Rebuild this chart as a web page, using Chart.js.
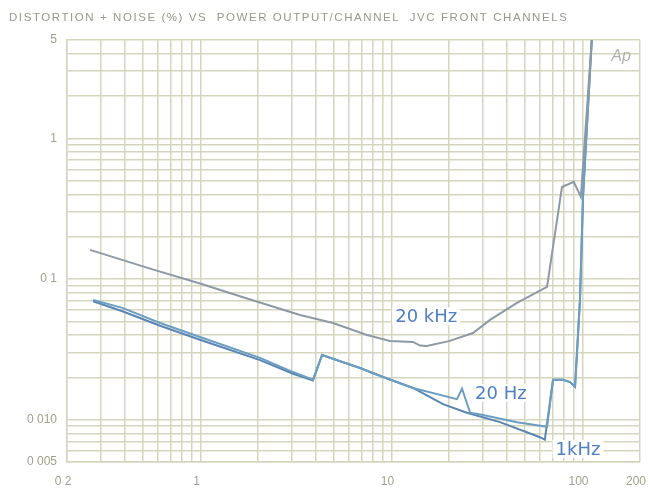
<!DOCTYPE html>
<html><head><meta charset="utf-8">
<script src="https://cdn.jsdelivr.net/npm/chart.js@4"></script>
<style>html,body{margin:0;padding:0;background:#fff}</style>
</head><body>
<canvas id="c" width="651" height="491"></canvas>
<script>
const chartTitle = 'DISTORTION + NOISE (%) VS  POWER OUTPUT/CHANNEL  JVC FRONT CHANNELS';

// grid positions (log)
const xGridValues = [0.2,0.3,0.4,0.5,0.6,0.7,0.8,0.9,1,2,3,4,5,6,7,8,9,10,20,30,40,50,60,70,80,90,100,200];
const yGridValues = [0.005,0.006,0.007,0.008,0.009,0.01,0.02,0.03,0.04,0.05,0.06,0.07,0.08,0.09,0.1,0.2,0.3,0.4,0.5,0.6,0.7,0.8,0.9,1,2,3,4,5];

// tick labels
const xLabelValues = [0.2, 1, 10, 100, 200];
const xLabelTexts  = ['0 2', '1', '10', '100', '200'];
const yLabelValues = [5, 1, 0.1, 0.01, 0.005];
const yLabelTexts  = ['5', '1', '0 1', '0 010', '0 005'];

// series: 20 kHz
const power20k = [0.264, 0.55, 0.994, 1.82, 3.32, 4.94, 7.44, 9.82, 12.96, 14.1, 15.3, 20.2, 26.7, 32.8, 45.4, 65.2, 78.1, 90, 98, 112];
const thdn20k  = [0.161, 0.118, 0.093, 0.0715, 0.0555, 0.0487, 0.0400, 0.0363, 0.0357, 0.0336, 0.0334, 0.0363, 0.0413, 0.0512, 0.0676, 0.088, 0.451, 0.490, 0.383, 5.2];

// series: 20 Hz
const power20 = [0.274, 0.39, 0.614, 0.994, 2.05, 3.05, 3.88, 4.33, 6.84, 9.03, 12.96, 22.0, 23.4, 25.8, 30.1, 45.4, 65.2, 70.1, 79.1, 86, 91.4, 97, 100.6, 112];
const thdn20  = [0.071, 0.0623, 0.0487, 0.0387, 0.0275, 0.0218, 0.0192, 0.0288, 0.0233, 0.0201, 0.0168, 0.0140, 0.0166, 0.0112, 0.0108, 0.0096, 0.0089, 0.0192, 0.0192, 0.0185, 0.0171, 0.071, 0.383, 5.2];

// series: 1 kHz
const power1k = [0.274, 0.39, 0.614, 0.994, 2.05, 3.05, 3.88, 4.33, 6.84, 9.03, 12.96, 18.6, 24.8, 37.0, 59.9, 63.5, 70.1, 79.1, 86, 91.4, 97, 100.6, 112];
const thdn1k  = [0.0695, 0.059, 0.0465, 0.037, 0.0265, 0.0212, 0.019, 0.0288, 0.0233, 0.0201, 0.0168, 0.0129, 0.0112, 0.0096, 0.0075, 0.0072, 0.0192, 0.0192, 0.0185, 0.0171, 0.071, 0.383, 5.2];

// in-plot series labels (anchored in data coordinates)
const seriesLabelTexts = ['20 kHz', '20 Hz', '1kHz'];
const seriesLabelX = [15.2, 37.4, 94.7];
const seriesLabelY = [0.0542, 0.0155, 0.0062];

const toPts = (xs, ys) => xs.map((x, i) => ({x, y: ys[i]}));
const near = (a, b) => Math.abs(a - b) / b < 1e-6;

const GRID = '#d5d5bd';
const TXT = '#a0a08a';

const overlay = {
  id: 'overlay',
  afterDraw(chart) {
    const ctx = chart.ctx;
    const xs = chart.scales.x, ys = chart.scales.y;
    ctx.save();
    // title
    ctx.font = '11.5px "Liberation Sans"';
    ctx.fillStyle = '#96988a';
    ctx.textBaseline = 'middle';
    ctx.textAlign = 'left';
    const natural = ctx.measureText(chartTitle).width;
    ctx.letterSpacing = ((558 - natural) / (chartTitle.length - 1)).toFixed(2) + 'px';
    ctx.fillText(chartTitle, 9, 18);
    ctx.letterSpacing = '0px';
    // Ap logo
    ctx.font = 'italic 16px "Liberation Sans"';
    ctx.fillStyle = '#b0b0b0';
    ctx.textAlign = 'center';
    ctx.fillText('Ap', chart.chartArea.right - 19, 57);
    // series labels
    ctx.font = '18px "DejaVu Sans"';
    seriesLabelTexts.forEach((t, i) => {
      const px = xs.getPixelForValue(seriesLabelX[i]);
      const py = ys.getPixelForValue(seriesLabelY[i]);
      const w = ctx.measureText(t).width;
      ctx.fillStyle = '#ffffff';
      ctx.fillRect(px - w / 2 - 3, py - 9, w + 6, 18);
      ctx.fillStyle = '#4f80c2';
      ctx.fillText(t, px, py + 1);
    });
    ctx.restore();
  }
};

new Chart(document.getElementById('c'), {
  type: 'line',
  data: {
    datasets: [
      {label: '20 kHz', data: toPts(power20k, thdn20k), borderColor: '#8d99a6', borderWidth: 2, pointRadius: 0, tension: 0},
      {label: '20 Hz', data: toPts(power20, thdn20), borderColor: '#6c9ec2', borderWidth: 2, pointRadius: 0, tension: 0},
      {label: '1 kHz', data: toPts(power1k, thdn1k), borderColor: '#5a86b4', borderWidth: 2, pointRadius: 0, tension: 0}
    ]
  },
  options: {
    responsive: false,
    animation: false,
    devicePixelRatio: 1,
    layout: {padding: {top: 40, right: 11, left: 0, bottom: 0}},
    plugins: {legend: {display: false}, tooltip: {enabled: false}, title: {display: false}},
    scales: {
      x: {
        type: 'logarithmic', min: 0.2, max: 200,
        afterBuildTicks: s => { s.ticks = xGridValues.map(v => ({value: v})); },
        afterFit: s => { s.height = 29; s.paddingLeft = 0; s.paddingRight = 0; },
        grid: {color: GRID, lineWidth: 1.5, drawTicks: false},
        border: {color: GRID, width: 1.5},
        ticks: {
          autoSkip: false, maxRotation: 0, padding: 12, labelOffset: -4,
          color: TXT, font: {family: 'Liberation Sans', size: 12},
          callback: v => { const i = xLabelValues.findIndex(a => near(v, a)); return i >= 0 ? xLabelTexts[i] : ''; }
        }
      },
      y: {
        type: 'logarithmic', min: 0.005, max: 5,
        afterBuildTicks: s => { s.ticks = yGridValues.map(v => ({value: v})); },
        afterFit: s => { s.width = 67; s.paddingTop = 0; s.paddingBottom = 0; },
        grid: {color: GRID, lineWidth: 1.5, drawTicks: false},
        border: {color: GRID, width: 1.5},
        ticks: {
          autoSkip: false, padding: 10,
          color: TXT, font: {family: 'Liberation Sans', size: 12},
          callback: v => { const i = yLabelValues.findIndex(a => near(v, a)); return i >= 0 ? yLabelTexts[i] : ''; }
        }
      }
    }
  },
  plugins: [overlay]
});
</script>
</body></html>
